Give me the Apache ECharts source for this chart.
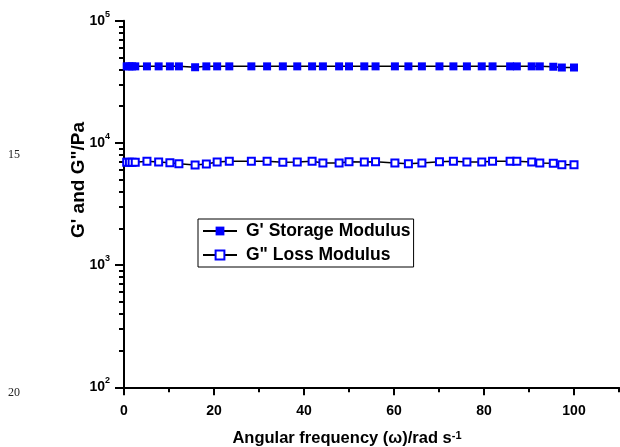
<!DOCTYPE html>
<html>
<head>
<meta charset="utf-8">
<script src="https://cdn.jsdelivr.net/npm/echarts@6/dist/echarts.min.js"></script>
<style>
  html, body { margin: 0; padding: 0; background: #fff; }
  #main { width: 620px; height: 447px; }
</style>
</head>
<body>
<div id="main"></div>
<script>
// angular frequency (rad/s)
var freq = [0.6, 1.2, 1.8, 2.5, 5.1, 7.7, 10.2, 12.2, 15.8, 18.3, 20.7, 23.4, 28.3, 31.8, 35.3, 38.5,
  41.8, 44.2, 47.8, 50.0, 53.4, 55.9, 60.2, 63.2, 66.2, 70.1, 73.2, 76.2, 79.5, 81.9, 85.8, 87.3,
  90.6, 92.4, 95.4, 97.3, 100];
// G' storage modulus (Pa)
var storage = [42300, 42300, 42300, 42300, 42300, 42300, 42300, 42300, 41600, 42300, 42300, 42300, 42300, 42300, 42300, 42300,
  42300, 42300, 42300, 42300, 42300, 42300, 42300, 42300, 42300, 42300, 42300, 42300, 42300, 42300, 42300, 42300,
  42300, 42300, 42000, 41400, 41400];
// G'' loss modulus (Pa)
var loss = [6950, 6950, 6950, 6940, 7070, 6980, 6890, 6760, 6600, 6720, 6980, 7070, 7070, 7070, 6940, 6980,
  7070, 6850, 6850, 7020, 6980, 7020, 6850, 6760, 6850, 7020, 7070, 6980, 6980, 7070, 7070, 7070,
  6980, 6850, 6810, 6640, 6640];

var xMajor = [0, 20, 40, 60, 80, 100];
var xMinor = [10, 30, 50, 70, 90, 110];
var yMajor = [100, 1000, 10000, 100000];
var yMinor = [];
for (var d = 100; d < 100000; d *= 10) {
  for (var k = 2; k <= 9; k++) yMinor.push(d * k);
}

function pairs(xs, ys) {
  return xs.map(function (x, i) { return [x, ys[i]]; });
}

var font = 'Liberation Sans, Arial, sans-serif';
var chart = echarts.init(document.getElementById('main'));
chart.setOption({
  animation: false,
  grid: { left: 124, right: 1, top: 20.7, bottom: 59.7, outerBoundsMode: 'none' },
  legend: {
    orient: 'vertical',
    left: 198,
    top: 219,
    padding: [3, 3, 3, 4],
    borderColor: '#000',
    borderWidth: 1,
    borderRadius: 0,
    itemWidth: 34,
    itemHeight: 11,
    itemGap: 6,
    textStyle: { fontFamily: font, fontWeight: 'bold', fontSize: 17.5, lineHeight: 14, color: '#000', padding: [0, 0, 0, 4] },
    data: ["G' Storage Modulus", 'G" Loss Modulus']
  },
  xAxis: [{
    type: 'value',
    min: 0,
    max: 110,
    interval: 20,
    splitLine: { show: false },
    axisLine: { lineStyle: { color: '#000', width: 2 } },
    axisTick: { length: 8, lineStyle: { color: '#000', width: 2 }, customValues: xMajor },
    axisLabel: { customValues: xMajor, margin: 17, fontFamily: font, fontWeight: 'bold', fontSize: 14, color: '#000' },
    name: 'Angular frequency (\u03c9)/rad s{s|-1}',
    nameLocation: 'middle',
    nameGap: 43,
    nameTextStyle: {
      fontFamily: font, fontWeight: 'bold', fontSize: 16.5, color: '#000', padding: [0, 49, 0, 0],
      rich: { s: { fontFamily: font, fontWeight: 'bold', fontSize: 11, verticalAlign: 'top', color: '#000' } }
    }
  }, {
    type: 'value',
    min: 0,
    max: 110,
    splitLine: { show: false },
    position: 'bottom',
    axisLine: { show: false },
    axisTick: { length: 5, lineStyle: { color: '#000', width: 2 }, customValues: xMinor },
    axisLabel: { show: false }
  }],
  yAxis: [{
    type: 'log',
    min: 100,
    max: 100000,
    splitLine: { show: false },
    axisLine: { lineStyle: { color: '#000', width: 2 } },
    axisTick: { length: 9, lineStyle: { color: '#000', width: 2 }, customValues: yMajor },
    axisLabel: {
      customValues: yMajor,
      margin: 14,
      formatter: function (v) {
        return '{b|10}{s|' + Math.round(Math.log10(v)) + '}';
      },
      rich: {
        b: { fontFamily: font, fontWeight: 'bold', fontSize: 14, color: '#000', lineHeight: 22 },
        s: { fontFamily: font, fontWeight: 'bold', fontSize: 9, color: '#000', verticalAlign: 'top' }
      }
    }
  }, {
    type: 'log',
    min: 100,
    max: 100000,
    position: 'left',
    splitLine: { show: false },
    axisLine: { show: false },
    axisTick: { length: 5, lineStyle: { color: '#000', width: 2 }, customValues: yMinor },
    axisLabel: { show: false }
  }],
  series: [{
    name: "G' Storage Modulus",
    type: 'line',
    data: pairs(freq, storage),
    symbol: 'rect',
    symbolSize: 8,
    itemStyle: { color: '#0000ff' },
    lineStyle: { color: '#000', width: 1.5 }
  }, {
    name: 'G" Loss Modulus',
    type: 'line',
    data: pairs(freq, loss),
    symbol: 'rect',
    symbolSize: 7,
    itemStyle: { color: '#fff', borderColor: '#0000ff', borderWidth: 2 },
    lineStyle: { color: '#000', width: 1.5 }
  }],
  graphic: [{
    type: 'text',
    x: 79,
    y: 180,
    rotation: Math.PI / 2,
    style: {
      text: 'G\' and G"/Pa',
      font: 'bold 19px ' + font,
      fill: '#000',
      align: 'center',
      verticalAlign: 'middle'
    }
  }, {
    type: 'text',
    x: 8,
    y: 155,
    style: { text: '15', font: '12px Liberation Serif, serif', fill: '#222', verticalAlign: 'middle' }
  }, {
    type: 'text',
    x: 8,
    y: 393,
    style: { text: '20', font: '12px Liberation Serif, serif', fill: '#222', verticalAlign: 'middle' }
  }]
});
</script>
</body>
</html>
